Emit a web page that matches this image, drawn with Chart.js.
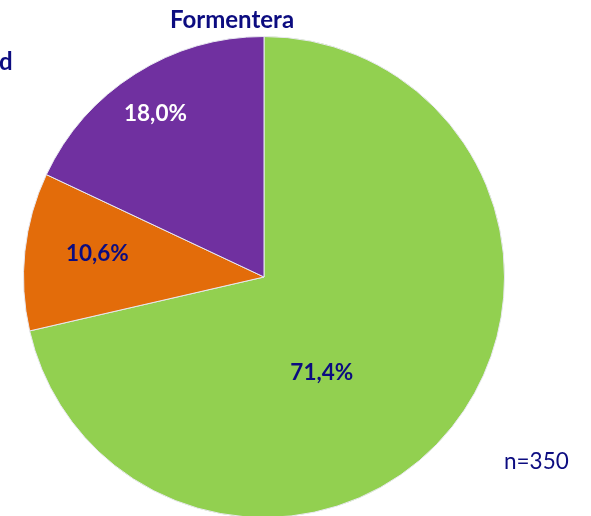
<!DOCTYPE html>
<html>
<head>
<meta charset="utf-8">
<script src="https://cdn.jsdelivr.net/npm/chart.js@4/dist/chart.umd.min.js"></script>
<style>
html,body{margin:0;padding:0;background:#fff;overflow:hidden;}
canvas{display:block;}
</style>
</head>
<body>
<canvas id="c" width="591" height="520"></canvas>
<script>
const categories = ["A", "B", "C"];
const values = [71.4, 10.6, 18.0];
const valueLabels = ["71,4%", "10,6%", "18,0%"];
const colors = ["#92D050", "#E36C0A", "#7030A0"];
const labelColors = ["#0C0C80", "#0C0C80", "#FFFFFF"];
const labelRadius = [0.46, 0.70, 0.82];
const labelAngleShift = [20, 2, -1]; // degrees
const title = "Formentera";
const note = "n=350";

const NAVY = "#0C0C80";
const FONT = "Lato, 'Open Sans', sans-serif";

const textPlugin = {
  id: 'texts',
  afterDraw(chart) {
    const ctx = chart.ctx;
    const meta = chart.getDatasetMeta(0);
    ctx.save();
    meta.data.forEach((arc, i) => {
      const p = arc.getProps(['x','y','startAngle','endAngle','outerRadius'], true);
      const mid = (p.startAngle + p.endAngle) / 2 + labelAngleShift[i] * Math.PI / 180;
      const r = p.outerRadius * labelRadius[i];
      ctx.font = "bold 22.5px " + FONT;
      ctx.fillStyle = labelColors[i];
      ctx.textAlign = "center";
      ctx.textBaseline = "middle";
      ctx.fillText(valueLabels[i], p.x + Math.cos(mid) * r, p.y + Math.sin(mid) * r + 1);
    });
    ctx.fillStyle = NAVY;
    ctx.font = "bold 24px " + FONT;
    ctx.textAlign = "center";
    ctx.textBaseline = "alphabetic";
    ctx.fillText(title, 232, 28);
    ctx.textAlign = "left";
    ctx.fillText("d", -1, 70);
    ctx.font = "22.5px " + FONT;
    ctx.fillText(note, 504, 469);
    ctx.restore();
  }
};

new Chart(document.getElementById('c'), {
  type: 'pie',
  data: {
    labels: categories,
    datasets: [{
      data: values,
      backgroundColor: colors,
      borderColor: "#E8E8F0",
      borderWidth: 1
    }]
  },
  options: {
    responsive: false,
    animation: false,
    devicePixelRatio: 1,
    layout: { padding: { left: 23, right: 86, top: 36, bottom: 2 } },
    plugins: {
      legend: { display: false },
      tooltip: { enabled: false },
      title: { display: false }
    }
  },
  plugins: [textPlugin]
});
</script>
</body>
</html>
